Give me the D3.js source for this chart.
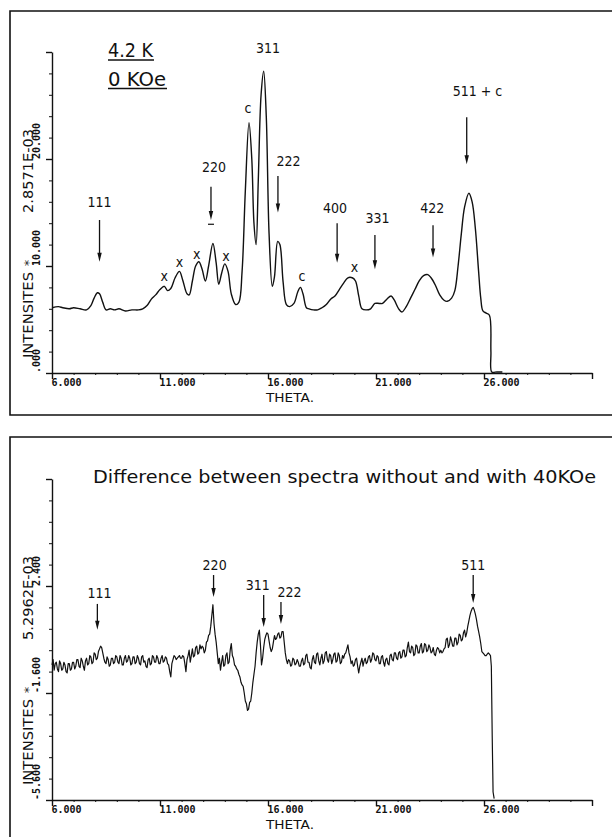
<!DOCTYPE html>
<html>
<head>
<meta charset="utf-8">
<script src="https://cdn.jsdelivr.net/npm/d3@7/dist/d3.min.js"></script>
<style>
  body { margin: 0; background: #fff; }
  svg { display: block; }
</style>
</head>
<body>
<svg id="chart" width="612" height="837"></svg>
<script>
// ---------- axis ticks ----------
const thetaMajor = [6, 11, 16, 21, 26, 31];
const thetaLabels = ["6.000", "11.000", "16.000", "21.000", "26.000", ""];
const thetaMinor = [6,7,8,9,10,11,12,13,14,15,16,17,18,19,20,21,22,23,24,25,26,27,28,29,30,31];

const topYMajor = [0, 10, 20, 30];
const topYLabels = [".000", "10.000", "20.000", ""];
const topYMinor = [0,2,4,6,8,10,12,14,16,18,20,22,24,26,28,30];

const diffYMajor = [-5.6, -1.6, 2.4, 6.4];
const diffYLabels = ["-5.600", "-1.600", "2.400", ""];
const diffYMinor = [-5.6,-4.8,-4.0,-3.2,-2.4,-1.6,-0.8,0,0.8,1.6,2.4,3.2,4.0,4.8,5.6,6.4];

// ---------- 4.2 K, 0 kOe spectrum ----------
const spectrumTheta = [
  6.0, 6.3, 6.5, 6.8, 7.0, 7.3, 7.6, 7.8, 7.95, 8.1, 8.2, 8.35, 8.5, 8.7, 8.9, 9.1, 9.4, 9.7,
  10.0, 10.2, 10.4, 10.6, 10.8, 11.0, 11.2, 11.35, 11.5, 11.7, 11.9, 12.05, 12.25, 12.35, 12.5,
  12.65, 12.8, 12.95, 13.1, 13.25, 13.45, 13.6, 13.72, 13.85, 14.0, 14.15, 14.3, 14.5, 14.65,
  14.8, 14.95, 15.12, 15.25, 15.35, 15.45, 15.55, 15.68, 15.8, 15.92, 16.05, 16.2, 16.3, 16.45,
  16.55, 16.7, 16.85, 17.0, 17.2, 17.38, 17.5, 17.62, 17.78, 17.9, 18.1, 18.3, 18.5, 18.7, 18.9,
  19.1, 19.3, 19.5, 19.7, 19.9, 20.05, 20.2, 20.35, 20.55, 20.75, 20.95, 21.15, 21.3, 21.5, 21.7,
  21.85, 22.05, 22.2, 22.4, 22.6, 22.8, 23.0, 23.2, 23.4, 23.55, 23.75, 23.95, 24.15, 24.3, 24.5,
  24.65, 24.8, 24.95, 25.1, 25.3, 25.45, 25.6, 25.75, 25.85, 25.95, 26.1, 26.25, 26.32, 26.36,
  26.6, 26.85
];
const spectrumIntensity = [
  6.1, 6.2, 6.1, 6.0, 6.1, 6.0, 5.9, 6.3, 7.0, 7.5, 7.4, 6.6, 5.9, 6.0, 5.9, 6.0, 5.8, 5.9,
  5.9, 6.0, 6.3, 6.9, 7.3, 7.8, 8.1, 7.7, 7.9, 8.9, 9.5, 8.7, 7.4, 7.3, 8.6,
  10.0, 10.4, 9.7, 8.6, 10.0, 12.1, 10.3, 8.3, 9.3, 10.2, 9.5, 7.4, 6.4, 6.6,
  9.5, 17.0, 23.4, 20.0, 14.0, 12.0, 18.0, 26.0, 28.2, 24.0, 13.0, 8.1, 9.0, 12.3,
  12.0, 8.5, 6.4, 6.2, 6.5, 7.6, 8.0, 7.4, 6.1, 6.0, 5.9, 5.9, 6.1, 6.4, 6.9,
  7.2, 7.8, 8.4, 8.9, 8.9, 8.6, 7.2, 6.0, 5.9, 6.0, 6.5, 6.5, 6.5, 6.9, 7.2,
  6.8, 6.0, 5.7, 6.2, 7.0, 7.8, 8.6, 9.1, 9.2, 8.9, 8.2, 7.3, 6.8, 6.7, 7.0,
  7.7, 10.0, 13.0, 15.5, 16.8, 16.0, 13.5, 9.5, 7.0, 5.8, 5.6, 5.4, 2.0, 0.1,
  0.1, 0.1
];

// ---------- difference spectrum (0 kOe minus 40 kOe), one reading every 0.05 deg ----------
const diffThetaStart = 6.0;
const diffThetaStep = 0.05;
const diffIntensity = [
  -0.55,-0.35,-0.75,-0.5,-0.45,-0.7,-0.8,-0.4,-0.5,-0.75,
  -0.7,-0.45,-0.55,-0.8,-0.85,-0.5,-0.5,-0.75,-0.7,-0.45,
  -0.45,-0.7,-0.6,-0.35,-0.35,-0.6,-0.65,-0.3,-0.4,-0.6,
  -0.75,-0.4,-0.3,-0.55,-0.5,-0.2,-0.25,-0.5,-0.45,-0.1,
  -0.15,-0.35,-0.3,-0.05,0.05,0.15,0.1,-0.1,-0.3,-0.45,
  -0.5,-0.25,-0.35,-0.6,-0.55,-0.3,-0.3,-0.5,-0.45,-0.2,
  -0.25,-0.45,-0.5,-0.2,-0.3,-0.55,-0.55,-0.3,-0.2,-0.45,
  -0.4,-0.2,-0.3,-0.55,-0.5,-0.25,-0.25,-0.5,-0.45,-0.2,
  -0.3,-0.5,-0.55,-0.25,-0.2,-0.45,-0.4,-0.6,-0.65,-0.35,
  -0.3,-0.55,-0.5,-0.2,-0.25,-0.45,-0.45,-0.2,-0.3,-0.5,
  -0.5,-0.3,-0.2,-0.45,-0.4,-0.25,-0.3,-0.5,-0.55,-0.8,
  -1.0,-0.5,-0.35,-0.2,-0.25,-0.35,-0.3,-0.25,-0.2,-0.3,
  -0.3,-0.2,-0.25,-0.5,-0.8,-0.35,-0.2,0.0,-0.45,-0.2,
  0.05,-0.25,-0.2,0.1,0.15,-0.15,-0.1,0.2,0.05,0.15,
  0.1,-0.1,0.0,0.3,0.35,0.55,0.6,0.9,1.3,1.7,
  1.0,0.6,0.3,-0.1,-0.5,-0.3,-0.75,-0.45,-0.2,-0.6,
  -0.55,-0.2,-0.1,-0.5,-0.45,0.0,0.25,-0.2,-0.3,-0.55,
  -0.6,-0.7,-0.75,-0.9,-1.0,-1.2,-1.3,-1.35,-1.6,-1.9,
  -2.0,-2.25,-2.2,-1.95,-1.9,-1.6,-1.2,-0.9,-0.6,-0.1,
  0.3,0.6,0.75,0.2,-0.55,-0.3,0.1,0.4,0.55,0.65,
  0.6,0.35,0.1,-0.05,0.05,0.3,0.55,0.4,0.45,0.6,
  0.65,0.45,0.5,0.7,0.7,0.3,-0.1,-0.35,-0.5,-0.35,
  -0.4,-0.6,-0.55,-0.3,-0.35,-0.55,-0.5,-0.35,-0.45,-0.6,
  -0.6,-0.4,-0.3,-0.55,-0.5,-0.2,-0.15,-0.45,-0.45,-0.65,
  -0.7,-0.35,-0.2,-0.45,-0.5,-0.15,-0.1,-0.4,-0.55,-0.3,
  -0.15,-0.5,-0.4,-0.1,-0.05,-0.35,-0.45,-0.15,-0.2,-0.5,
  -0.35,-0.15,-0.1,-0.45,-0.4,-0.1,-0.2,-0.5,-0.45,-0.2,
  -0.3,-0.15,-0.1,0.05,0.2,-0.1,-0.25,-0.5,-0.4,-0.6,
  -0.55,-0.35,-0.3,-0.6,-0.85,-0.6,-0.45,-0.3,-0.6,-0.4,
  -0.3,-0.5,-0.45,-0.25,-0.2,-0.45,-0.35,-0.1,-0.15,-0.35,
  -0.4,-0.2,-0.25,-0.5,-0.5,-0.25,-0.2,-0.45,-0.6,-0.35,
  -0.3,-0.5,-0.55,-0.2,-0.15,-0.35,-0.4,-0.1,-0.1,-0.3,
  -0.35,-0.1,-0.05,-0.3,-0.25,0.0,0.0,-0.25,-0.2,0.1,
  0.3,-0.05,-0.1,0.15,0.1,-0.2,-0.15,0.2,0.15,-0.1,
  -0.1,0.15,0.25,-0.1,-0.05,0.25,0.2,-0.05,0.0,0.2,
  0.1,-0.1,-0.05,0.1,-0.15,-0.2,0.0,0.1,0.05,-0.1,
  0.0,-0.1,-0.05,0.05,0.1,0.4,0.45,0.1,0.2,0.5,
  0.35,0.15,0.15,0.45,0.45,0.2,0.3,0.6,0.55,0.35,
  0.4,0.65,0.75,0.5,0.65,0.9,1.1,1.3,1.45,1.55,
  1.6,1.5,1.35,1.15,0.9,0.7,0.5,0.25,-0.05,-0.1,
  -0.15,-0.2,-0.2,-0.15,-0.1,-0.15,-0.2
];
const diffTailTheta = [26.34, 26.38, 26.42, 26.47];
const diffTailIntensity = [-0.6, -3.2, -5.3, -5.55];

// ---------- peak annotations ----------
const topLabelText  = ["111", "220", "311", "222", "400", "331", "422", "511 + c", "c", "c", "x", "x", "x", "x", "x"];
const topLabelTheta = [8.2, 13.5, 16.0, 16.95, 19.1, 21.07, 23.6, 25.7, 15.07, 17.57, 11.2, 11.9, 12.7, 14.05, 20.0];
const topLabelValue = [15.5, 18.8, 29.9, 19.35, 15.0, 14.0, 15.0, 25.9, 24.3, 8.6, 8.6, 9.9, 10.65, 10.5, 9.4];

const topArrowTheta = [8.2, 13.36, 16.46, 19.2, 20.95, 23.64, 25.2];
const topArrowFrom  = [14.3, 17.4, 18.4, 14.0, 12.9, 13.8, 23.9];
const topArrowTo    = [10.4, 14.3, 15.0, 10.3, 9.7, 10.8, 19.5];

const diffLabelText  = ["111", "220", "311", "222", "511"];
const diffLabelTheta = [8.2, 13.53, 15.53, 17.0, 25.5];
const diffLabelValue = [1.95, 3.0, 2.25, 1.99, 3.0];

const diffArrowTheta = [8.1, 13.48, 15.8, 16.6, 25.5];
const diffArrowFrom  = [1.73, 2.81, 2.06, 1.8, 2.81];
const diffArrowTo    = [0.76, 1.99, 0.87, 0.98, 1.76];

// ---------- drawing ----------
const svg = d3.select("#chart");
const INK = "#111";
const plotFont = "'DejaVu Sans Condensed', 'DejaVu Sans', sans-serif";
const tickFont = "'DejaVu Sans Mono', monospace";

const x = d3.scaleLinear().domain([6, 31]).range([52, 592]);

function panel(frameTop, frameBottom, yScale, yMajor, yLabels, yMinor, titleParts) {
  const g = svg.append("g");
  // panel frame (open to the right edge)
  g.append("path")
    .attr("d", `M640,${frameTop} H10 V${frameBottom} H640`)
    .attr("fill", "none").attr("stroke", INK).attr("stroke-width", 1.6);

  const y0 = yScale.range()[0];

  // x axis: minor then major ticks
  g.append("g").attr("transform", `translate(0,${y0})`)
    .call(d3.axisBottom(x).tickValues(thetaMinor).tickSize(2).tickSizeOuter(0).tickFormat(""))
    .call(a => a.select(".domain").remove());
  const xa = g.append("g").attr("transform", `translate(0,${y0})`)
    .call(d3.axisBottom(x).tickValues(thetaMajor).tickSize(6).tickSizeOuter(0)
      .tickFormat((d, i) => thetaLabels[i]));
  xa.selectAll("line, path").attr("stroke", INK).attr("stroke-width", 1.4);
  xa.selectAll("text")
    .attr("text-anchor", "start").attr("x", -1).attr("y", 6).attr("dy", "0.71em")
    .attr("fill", INK).style("font-family", tickFont).style("font-weight", "bold")
    .style("font-size", "10px");

  // y axis
  g.append("g").attr("transform", `translate(52,0)`)
    .call(d3.axisLeft(yScale).tickValues(yMinor).tickSize(3).tickSizeOuter(0).tickFormat(""))
    .call(a => a.select(".domain").remove());
  const ya = g.append("g").attr("transform", `translate(52,0)`)
    .call(d3.axisLeft(yScale).tickValues(yMajor).tickSize(6).tickSizeOuter(0).tickFormat(""));
  ya.selectAll("line, path").attr("stroke", INK).attr("stroke-width", 1.4);
  g.selectAll(".tick line").attr("stroke", INK);

  // rotated y tick labels, starting at the tick and reading upward
  yMajor.forEach((v, i) => {
    if (!yLabels[i]) return;
    g.append("text")
      .attr("transform", `translate(40,${yScale(v)}) rotate(-90)`)
      .attr("text-anchor", "start")
      .attr("fill", INK)
      .style("font-family", tickFont).style("font-weight", "bold").style("font-size", "10px")
      .text(yLabels[i]);
  });

  // rotated axis title
  const [t1, t2, t3] = titleParts;
  g.append("text")
    .attr("transform", `translate(33,${y0 - 15}) rotate(-90)`)
    .attr("text-anchor", "start").attr("fill", INK)
    .attr("textLength", 86).attr("lengthAdjust", "spacingAndGlyphs")
    .style("font-family", "'DejaVu Sans', sans-serif").style("font-size", "14px")
    .text(t1);
  g.append("text")
    .attr("transform", `translate(33,${y0 - 110}) rotate(-90)`)
    .attr("text-anchor", "middle").attr("fill", INK)
    .style("font-family", "'DejaVu Sans', sans-serif").style("font-size", "13px")
    .text(t2);
  g.append("text")
    .attr("transform", `translate(33,${y0 - 160}) rotate(-90)`)
    .attr("text-anchor", "start").attr("fill", INK)
    .attr("textLength", 84).attr("lengthAdjust", "spacingAndGlyphs")
    .style("font-family", "'DejaVu Sans', sans-serif").style("font-size", "14px")
    .text(t3);

  // x axis title
  g.append("text")
    .attr("x", 290).attr("y", y0 + 29)
    .attr("text-anchor", "middle").attr("fill", INK)
    .attr("textLength", 48).attr("lengthAdjust", "spacingAndGlyphs")
    .style("font-family", "'DejaVu Sans', sans-serif").style("font-size", "12px")
    .text("THETA.");
  return g;
}

function arrows(g, yScale, thetas, from, to) {
  thetas.forEach((t, i) => {
    const ax = x(t), ya = yScale(from[i]), yb = yScale(to[i]);
    g.append("line")
      .attr("x1", ax).attr("x2", ax).attr("y1", ya).attr("y2", yb - 6)
      .attr("stroke", INK).attr("stroke-width", 1.3);
    g.append("path")
      .attr("d", `M${ax - 2.2},${yb - 9} L${ax + 2.2},${yb - 9} L${ax},${yb} Z`)
      .attr("fill", INK);
  });
}

function labels(g, yScale, texts, thetas, values, size) {
  texts.forEach((t, i) => {
    g.append("text")
      .attr("x", x(thetas[i])).attr("y", yScale(values[i]))
      .attr("text-anchor", "middle").attr("fill", INK)
      .style("font-family", plotFont).style("font-size", size + "px")
      .text(t);
  });
}

// ===== upper panel: 4.2 K, 0 kOe =====
const yTop = d3.scaleLinear().domain([0, 30]).range([373, 52]);
const gTop = panel(11, 415, yTop, topYMajor, topYLabels, topYMinor,
  ["INTENSITES", "*", "2.8571E-03"]);

gTop.append("path")
  .datum(spectrumTheta.map((t, i) => [t, spectrumIntensity[i]]))
  .attr("fill", "none").attr("stroke", INK).attr("stroke-width", 1.4)
  .attr("stroke-linejoin", "round")
  .attr("d", d3.line().x(d => x(d[0])).y(d => yTop(d[1])).curve(d3.curveCatmullRom.alpha(0.5)));

labels(gTop, yTop, topLabelText, topLabelTheta, topLabelValue, 14);
arrows(gTop, yTop, topArrowTheta, topArrowFrom, topArrowTo);
// short bar under the 220 arrow head
gTop.append("line")
  .attr("x1", x(13.36) - 3).attr("x2", x(13.36) + 3)
  .attr("y1", yTop(13.9)).attr("y2", yTop(13.9))
  .attr("stroke", INK).attr("stroke-width", 1.2);

// sample conditions, underlined
[["4.2 K", 57, 45], ["0 KOe", 85.5, 58]].forEach(([txt, by, w]) => {
  gTop.append("text")
    .attr("x", 108).attr("y", by).attr("fill", INK)
    .attr("textLength", w).attr("lengthAdjust", "spacingAndGlyphs")
    .style("font-family", plotFont).style("font-size", "19px")
    .text(txt);
  gTop.append("line")
    .attr("x1", 108).attr("x2", 108 + w + 1).attr("y1", by + 3).attr("y2", by + 3)
    .attr("stroke", INK).attr("stroke-width", 1.3);
});

// ===== lower panel: difference spectrum =====
const yDiff = d3.scaleLinear().domain([-5.6, 6.4]).range([800, 479]);
const gDiff = panel(437, 900, yDiff, diffYMajor, diffYLabels, diffYMinor,
  ["INTENSITES", "*", "5.2962E-03"]);

const diffPoints = diffIntensity.map((v, i) => [diffThetaStart + i * diffThetaStep, v])
  .concat(diffTailTheta.map((t, i) => [t, diffTailIntensity[i]]));
gDiff.append("path")
  .datum(diffPoints)
  .attr("fill", "none").attr("stroke", INK).attr("stroke-width", 1.2)
  .attr("stroke-linejoin", "round")
  .attr("d", d3.line().x(d => x(d[0])).y(d => yDiff(d[1])));

labels(gDiff, yDiff, diffLabelText, diffLabelTheta, diffLabelValue, 14);
arrows(gDiff, yDiff, diffArrowTheta, diffArrowFrom, diffArrowTo);

gDiff.append("text")
  .attr("x", 93).attr("y", 483).attr("fill", INK)
  .attr("textLength", 503).attr("lengthAdjust", "spacingAndGlyphs")
  .style("font-family", plotFont).style("font-size", "18px")
  .text("Difference between spectra without and with 40KOe");
</script>
</body>
</html>
